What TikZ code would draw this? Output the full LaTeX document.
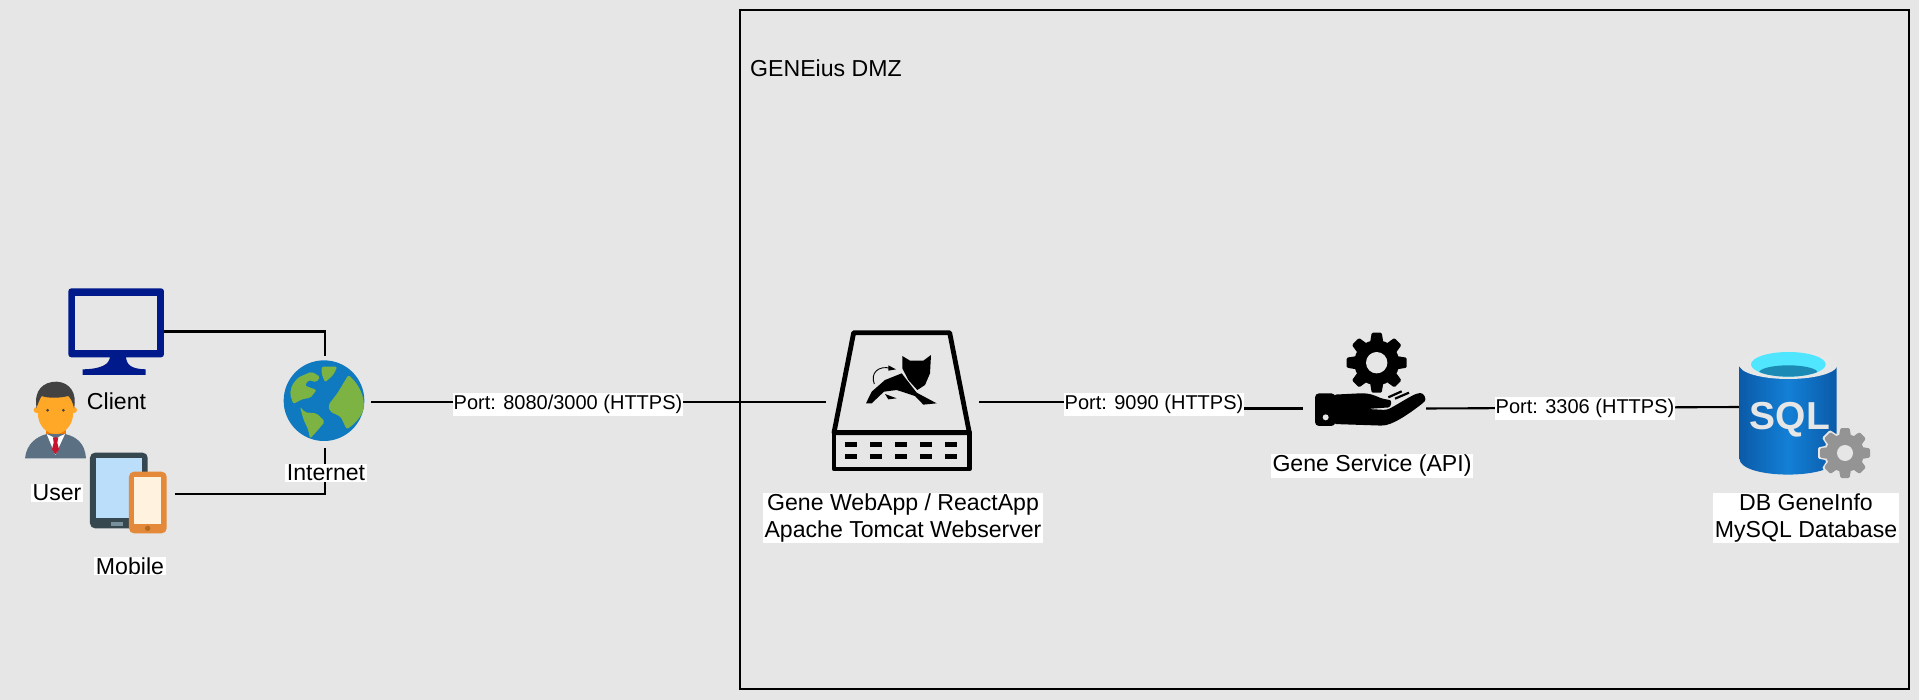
\documentclass[tikz,border=0pt]{standalone}
\usepackage{fontspec}
\setmainfont{Liberation Sans}
\definecolor{pagebg}{HTML}{E6E6E6}
\definecolor{monblue}{HTML}{001A8C}
\definecolor{globeblue}{HTML}{0F7ABF}
\definecolor{globegreen}{HTML}{7CB342}
\definecolor{dbdark}{HTML}{0B5AA8}
\definecolor{dbmid}{HTML}{1380D6}
\definecolor{dbcyan}{HTML}{50E6FF}
\definecolor{dbteal}{HTML}{1B8AB5}
\definecolor{coggray}{HTML}{949494}
\definecolor{suit}{HTML}{5B7083}
\definecolor{skin}{HTML}{FFA726}
\definecolor{neckc}{HTML}{F57C00}
\definecolor{hairc}{HTML}{424242}
\definecolor{tiered}{HTML}{C8142E}
\definecolor{tabdark}{HTML}{37474F}
\definecolor{tabscreen}{HTML}{BBDEFB}
\definecolor{tabbtn}{HTML}{78909C}
\definecolor{phoneo}{HTML}{E38939}
\definecolor{phonescr}{HTML}{FFF3E0}
\definecolor{phonebtn}{HTML}{B26A22}
\newcommand{\cogicon}[7]{%
  \foreach \a in {0,45,...,315} {%
    \fill[#7, rotate around={\a:(#1,#2)}, rounded corners=1.2pt]
      (#1-#5*0.66,#2-#4*0.9) -- (#1-#5*0.5,#2-#3) -- (#1+#5*0.5,#2-#3) -- (#1+#5*0.66,#2-#4*0.9) -- cycle;}%
  \fill[#7] (#1,#2) circle (#4);
  \fill[pagebg] (#1,#2) circle (#6);}
\tikzset{
  x=1pt,y=-1pt,
  zoomA/.style={shift={(0,270)},x=0.33333pt,y=-0.33333pt},
  zoomB/.style={shift={(760,310)},x=0.33333pt,y=-0.33333pt},
  zoomC/.style={shift={(1260,310)},x=0.33333pt,y=-0.33333pt},
  zoomD/.style={shift={(1680,330)},x=0.33333pt,y=-0.33333pt},
  icon/.style={inner sep=0pt,outer sep=0pt,draw=none},
  conn/.style={draw=black,line width=2.1pt},
  portlabel/.style={fill=white,inner xsep=1pt,inner ysep=0pt,minimum height=23pt,text height=15pt,text depth=5pt,font=\fontsize{20}{24}\selectfont},
  caption/.style={fill=white,inner xsep=1.5pt,inner ysep=1pt,align=center,font=\fontsize{23.1}{27.4}\selectfont},
  plaintext/.style={inner sep=0pt,font=\fontsize{23.1}{27.4}\selectfont},
}
\begin{document}
\begin{tikzpicture}
\useasboundingbox (0,0) rectangle (1919,700);
\fill[pagebg] (0,0) rectangle (1919,700);
% DMZ
\node[draw=black,line width=2.2pt,minimum width=1169pt,minimum height=679pt,inner sep=0pt,outer sep=0pt] (dmz) at (1324.5,349.5) {};
\node[plaintext,anchor=west] (dmztext) at (750,68) {GENEius DMZ};
% connector anchors
\node[icon,minimum width=96pt,minimum height=87pt] (client) at (116,331.5) {};
\node[icon,minimum width=92pt,minimum height=92pt] (globe) at (325,402) {};
\node[icon,minimum width=85pt,minimum height=80pt] (mobile) at (132.5,494) {};
\node[icon,minimum width=153pt,minimum height=140pt] (server) at (902.5,402) {};
\node[icon,minimum width=123pt,minimum height=90pt] (service) at (1364.5,408.5) {};
\node[icon,minimum width=110pt,minimum height=124pt] (db) at (1794,407) {};
\coordinate (midA) at (1141,405);
% connectors
\draw[conn] (client.east) -| (globe.north);
\draw[conn] (globe.south) |- (mobile.east);
\draw[conn] (globe.east) -- (server.west);
\draw[conn] (server.east) -| (midA) |- (service.west);
\draw[conn] (service.east) -- (db.west);
% monitor
\begin{scope}[zoomA]
\fill[monblue,rounded corners=3pt] (205,55) rectangle (492,262);
\fill[pagebg] (225,78) rectangle (470,240);
\fill[monblue] (330,258) -- (378,258) .. controls (378,285) and (395,297) .. (437,298) -- (437,315) -- (248,315) -- (248,298) .. controls (300,297) and (330,285) .. (330,258) -- cycle;
% user
\fill[neckc] (138,465) rectangle (197,505);
\fill[suit] (75,565) .. controls (80,520) and (110,500) .. (140,492) -- (195,492) .. controls (230,500) and (255,520) .. (258,565) -- cycle;
\fill[white] (140,492) -- (166,555) -- (195,492) -- (167,505) -- cycle;
\fill[tiered] (159,502) -- (175,502) -- (172,518) -- (177,538) -- (166,553) -- (156,538) -- (161,518) -- cycle;
\fill[skin] (110,420) circle (9) (222,420) circle (9);
\fill[skin] (113,395) .. controls (113,350) and (220,350) .. (220,395) -- (220,425) .. controls (220,470) and (190,492) .. (167,492) .. controls (142,492) and (113,470) .. (113,425) -- cycle;
\fill[hairc] (110,415) .. controls (100,360) and (130,335) .. (170,335) .. controls (210,337) and (232,370) .. (222,415) .. controls (218,395) and (212,385) .. (205,378) .. controls (175,385) and (145,385) .. (125,378) .. controls (118,390) and (114,400) .. (110,415) -- cycle;
\fill[hairc] (143,421) circle (4.5) (190,421) circle (4.5);
% tablet
\fill[tabdark,rounded corners=5pt] (270,548) rectangle (443,775);
\fill[tabscreen] (288,565) rectangle (425,743);
\fill[tabbtn] (332,755) rectangle (368,767);
% phone
\fill[phoneo,rounded corners=5pt] (387,605) rectangle (500,790);
\fill[phonescr] (403,622) rectangle (484,762);
\fill[phonebtn] (443,775) circle (8);
% globe
\fill[globeblue] (972,392) circle (121);
\fill[globegreen,rounded corners=2pt] (1045,315) .. controls (1080,345) and (1095,385) .. (1090,420) .. controls (1080,445) and (1060,465) .. (1040,478) -- (1022,440) -- (990,425) -- (985,405) -- (1012,370) -- cycle;
\fill[globegreen,rounded corners=2pt] (965,290) -- (1012,290) -- (1000,315) -- (975,337) -- (965,312) -- cycle;
\fill[globegreen,rounded corners=2pt] (895,322) -- (935,305) -- (960,320) -- (950,337) -- (925,330) -- (915,347) -- (950,360) -- (930,385) -- (915,385) -- (898,392) -- (880,402) -- (870,372) -- (876,345) -- cycle;
\fill[globegreen,rounded corners=2pt] (900,410) -- (915,427) -- (950,430) -- (975,455) -- (945,490) -- (930,506) -- (925,480) -- (910,447) -- cycle;
\end{scope}
% server
\begin{scope}[zoomB]
\draw[black,line width=4.8pt,line join=round] (281,68) -- (569,68) -- (628,368) -- (222,368) -- cycle;
\draw[black,line width=4.8pt,line join=round] (222,368) rectangle (628,477);
\foreach \px in {273,348,424,499,574}{
  \fill[black] (\px-18,397) rectangle (\px+18,412);
  \fill[black] (\px-18,432) rectangle (\px+18,448);}
% tomcat
\fill[black] (427,138) -- (450,152) -- (490,152) -- (513,135) -- (510,190) -- (495,225) -- (472,240) -- (445,210) -- (427,175) -- cycle;
\fill[black] (425,190) -- (470,248) -- (530,280) -- (490,284) -- (465,258) -- (410,240) -- (372,245) -- (335,280) -- (318,280) -- (335,245) -- (375,210) -- cycle;
\draw[black,line width=0.9pt] (343,222) .. controls (330,190) and (355,165) .. (392,175);
\fill[black] (385,166) -- (408,178) -- (385,182) -- cycle;
\fill[black] (375,252) -- (410,265) -- (385,268) -- cycle;
\end{scope}
% service
\cogicon{1376.7}{362.7}{30}{22.5}{10}{10.7}{black}
\begin{scope}[zoomC]
\fill[black,rounded corners=4pt] (165,250) rectangle (226,348);
\fill[black,rounded corners=3pt] (220,254) -- (300,250) .. controls (340,250) and (360,266) .. (382,268) .. controls (395,272) and (395,292) .. (375,293) -- (322,297) -- (380,300) .. controls (410,285) and (445,262) .. (472,250) .. controls (492,248) and (500,268) .. (488,280) .. controls (455,305) and (410,338) .. (370,347) -- (220,342) -- cycle;
\fill[pagebg] (197,322) circle (9);
\draw[black,line width=2.2pt] (385,262) -- (425,244);
\draw[black,line width=2.2pt] (405,266) -- (447,248);
\end{scope}
% database
\begin{scope}[zoomD]
\shade[left color=dbdark,right color=dbdark,middle color=dbmid] (178,110) -- (178,385) .. controls (178,450) and (470,450) .. (470,385) -- (470,110) -- cycle;
\fill[pagebg!97!white] (325,105) ellipse (147 and 42);
\fill[dbcyan] (325,103) ellipse (112 and 37);
\begin{scope}
\clip (325,103) ellipse (112 and 37);
\fill[dbteal] (325,128) ellipse (88 and 22);
\end{scope}
\end{scope}
\node[icon,text=pagebg,font=\fontsize{39}{39}\selectfont\bfseries] (sqltext) at (1790,420) {SQL};
\cogicon{1845}{453}{27}{21}{11}{0}{pagebg}
\cogicon{1845}{453}{25}{19}{9}{8}{coggray}
% edge labels
\node[portlabel] (portA) at (568,404) {Port: 8080/3000 (HTTPS)};
\node[portlabel] (portB) at (1154,404.5) {Port: 9090 (HTTPS)};
\node[portlabel] (portC) at (1585,408) {Port: 3306 (HTTPS)};
% captions
\node[plaintext] (clienttext) at (116.5,401) {Client};
\node[caption] (usertext) at (57,493) {User};
\node[caption] (mobiletext) at (130,566) {Mobile};
\node[caption] (globetext) at (326,473) {Internet};
\node[caption] (servertext) at (903,518) {Gene WebApp / ReactApp\\Apache Tomcat Webserver};
\node[caption] (servicetext) at (1372,466) {Gene Service (API)};
\node[caption] (dbtext) at (1806,518) {DB GeneInfo\\MySQL Database};
\end{tikzpicture}
\end{document}
